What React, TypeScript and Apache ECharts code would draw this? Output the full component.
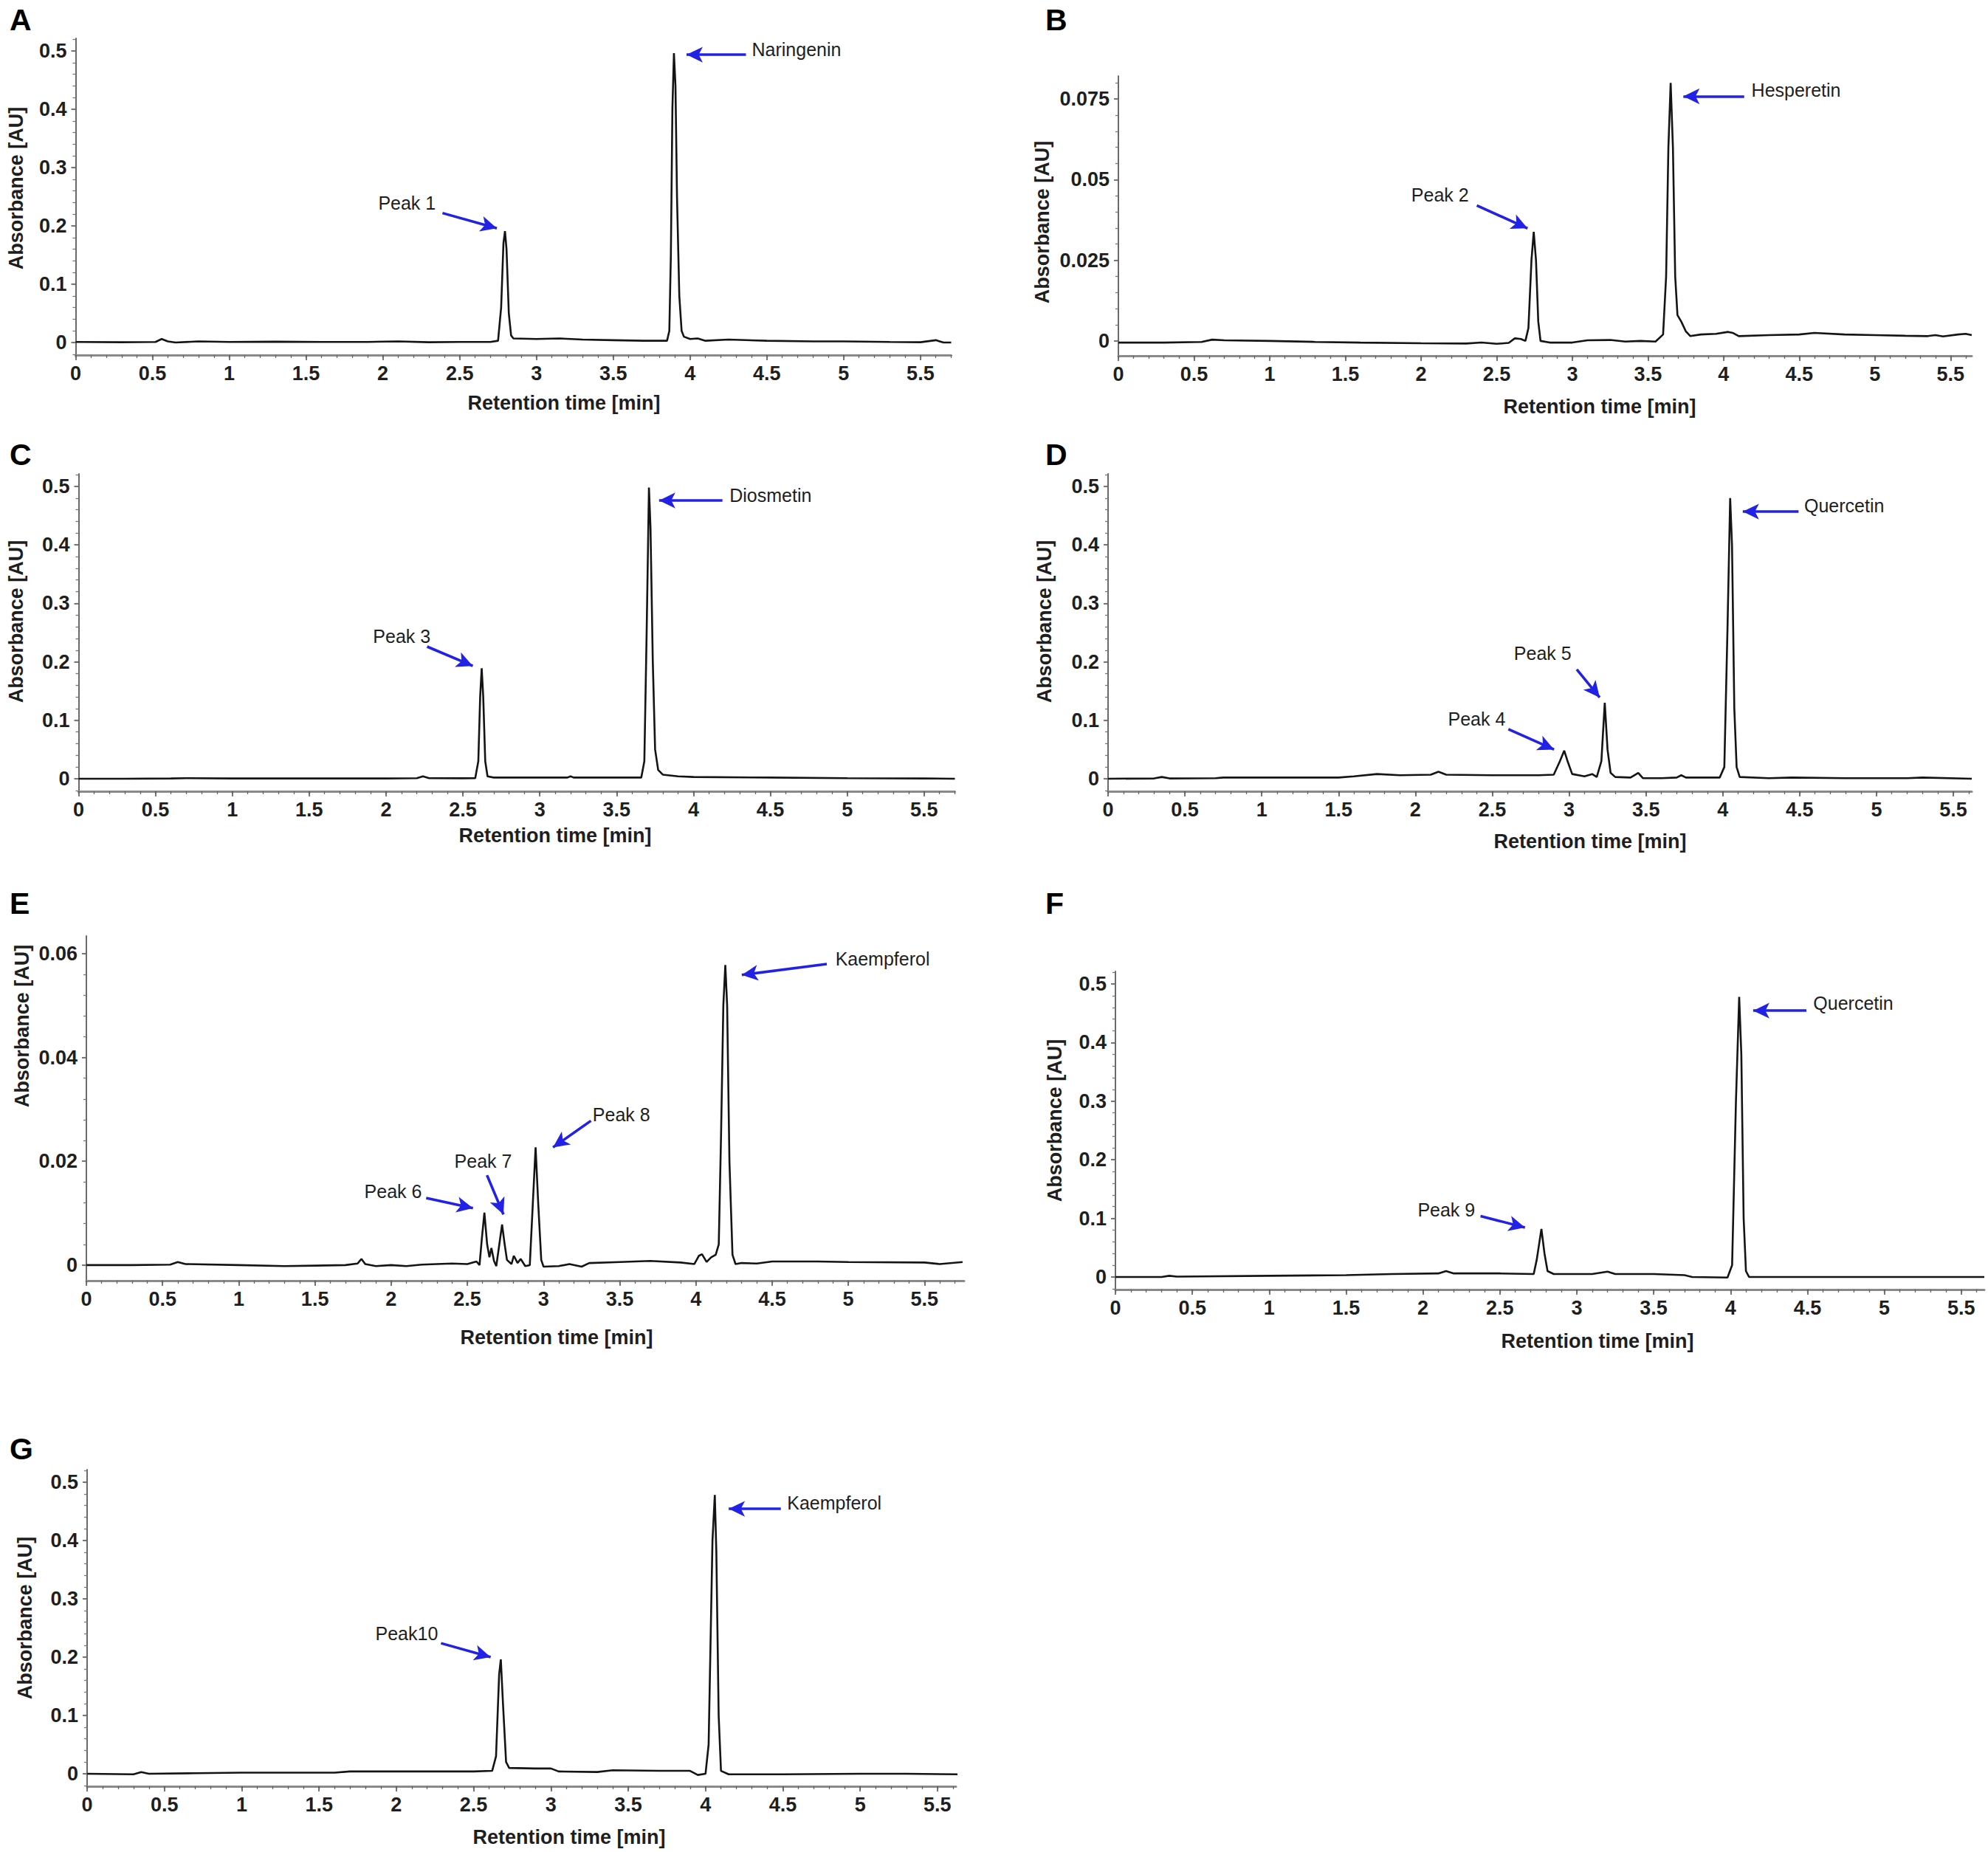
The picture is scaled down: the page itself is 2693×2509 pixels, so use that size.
import React, { useEffect, useRef } from 'react';
import * as echarts from 'echarts';

const W = 2693;
const H = 2509;
const FONT = '"Liberation Sans", Arial, Helvetica, sans-serif';
const BLUE = '#2222e6';

// ---- tick labels ----
const xTickLabels = [0, 0.5, 1, 1.5, 2, 2.5, 3, 3.5, 4, 4.5, 5, 5.5];
const yTicksMain = [0, 0.1, 0.2, 0.3, 0.4, 0.5];
const yTicksB = [0, 0.025, 0.05, 0.075];
const yTicksE = [0, 0.02, 0.04, 0.06];

// ---- chromatogram traces [time (min), absorbance (AU)] ----
const traceA = [
  [0, 0.001], [0.3, 0.0005], [0.52, 0.001], [0.56, 0.006], [0.6, 0.002], [0.65, 0.0], [0.8, 0.002],
  [1.0, 0.001], [1.3, 0.0015], [1.6, 0.001], [1.9, 0.001], [2.1, 0.002], [2.3, 0.0005], [2.5, 0.001],
  [2.7, 0.001], [2.75, 0.003], [2.77, 0.06], [2.785, 0.17], [2.795, 0.191], [2.805, 0.16], [2.82, 0.05],
  [2.835, 0.012], [2.85, 0.007], [3.0, 0.006], [3.15, 0.007], [3.3, 0.005], [3.5, 0.004], [3.7, 0.003],
  [3.85, 0.003], [3.865, 0.02], [3.875, 0.15], [3.885, 0.4], [3.895, 0.496], [3.905, 0.44], [3.915, 0.25],
  [3.93, 0.08], [3.945, 0.02], [3.96, 0.01], [4.0, 0.006], [4.05, 0.007], [4.1, 0.003], [4.25, 0.005],
  [4.5, 0.003], [4.8, 0.002], [5.0, 0.002], [5.3, 0.001], [5.5, 0.0005], [5.6, 0.004], [5.65, 0.0], [5.7, 0.0],
];
const traceB = [
  [0, -0.0005], [0.3, -0.0005], [0.55, -0.0003], [0.62, 0.0004], [0.7, 0.0002], [1.0, 0.0], [1.3, -0.0003],
  [1.6, -0.0005], [2.0, -0.0007], [2.3, -0.0008], [2.4, -0.0005], [2.5, -0.0009], [2.58, -0.0006],
  [2.62, 0.0008], [2.66, 0.0006], [2.69, 0.0], [2.71, 0.004], [2.73, 0.025], [2.745, 0.0338], [2.76, 0.025],
  [2.775, 0.006], [2.79, 0.0], [2.85, -0.0005], [3.0, -0.0005], [3.1, 0.0002], [3.25, 0.0003], [3.35, -0.0002],
  [3.45, 0.0], [3.55, -0.0002], [3.6, 0.002], [3.62, 0.02], [3.635, 0.06], [3.65, 0.08], [3.665, 0.06],
  [3.68, 0.02], [3.695, 0.008], [3.72, 0.006], [3.75, 0.003], [3.78, 0.0015], [3.85, 0.002], [3.95, 0.0022],
  [4.03, 0.0028], [4.06, 0.0025], [4.1, 0.0015], [4.3, 0.0018], [4.5, 0.002], [4.6, 0.0025], [4.8, 0.002],
  [5.0, 0.0018], [5.2, 0.0016], [5.35, 0.0015], [5.4, 0.0018], [5.45, 0.0014], [5.55, 0.002], [5.6, 0.0022],
  [5.64, 0.0018],
];
const traceC = [
  [0, 0.0], [0.3, 0.0], [0.6, 0.0005], [0.7, 0.001], [1.0, 0.0005], [1.5, 0.0005], [2.0, 0.0005], [2.2, 0.001],
  [2.24, 0.004], [2.28, 0.001], [2.5, 0.0008], [2.58, 0.001], [2.6, 0.03], [2.612, 0.14], [2.622, 0.189],
  [2.632, 0.14], [2.645, 0.03], [2.66, 0.004], [2.7, 0.002], [3.0, 0.002], [3.18, 0.002], [3.2, 0.004],
  [3.22, 0.002], [3.5, 0.002], [3.66, 0.002], [3.68, 0.03], [3.695, 0.25], [3.71, 0.498], [3.72, 0.43],
  [3.735, 0.2], [3.75, 0.05], [3.77, 0.015], [3.8, 0.007], [3.9, 0.004], [4.0, 0.003], [4.5, 0.002],
  [5.0, 0.001], [5.5, 0.0005], [5.7, 0.0],
];
const traceD = [
  [0, 0.0], [0.3, 0.0005], [0.35, 0.003], [0.4, 0.0005], [0.7, 0.001], [0.75, 0.002], [1.0, 0.002],
  [1.5, 0.002], [1.6, 0.004], [1.75, 0.008], [1.9, 0.006], [2.1, 0.007], [2.15, 0.012], [2.2, 0.007],
  [2.5, 0.006], [2.8, 0.006], [2.9, 0.007], [2.94, 0.03], [2.968, 0.048], [2.99, 0.03], [3.02, 0.008],
  [3.1, 0.004], [3.15, 0.008], [3.18, 0.003], [3.21, 0.03], [3.232, 0.13], [3.25, 0.05], [3.27, 0.01],
  [3.3, 0.003], [3.4, 0.002], [3.45, 0.01], [3.48, 0.001], [3.6, 0.001], [3.7, 0.002], [3.73, 0.006],
  [3.76, 0.002], [3.98, 0.002], [4.01, 0.02], [4.03, 0.25], [4.048, 0.48], [4.06, 0.4], [4.075, 0.12],
  [4.09, 0.02], [4.11, 0.003], [4.3, 0.001], [4.45, 0.002], [4.8, 0.001], [5.2, 0.001], [5.3, 0.002], [5.62, 0.0],
];
const traceE = [
  [0, 0.0], [0.3, 0.0], [0.55, 0.0001], [0.6, 0.0006], [0.65, 0.0002], [1.0, 0.0], [1.3, -0.0002],
  [1.5, -0.0001], [1.7, 0.0], [1.78, 0.0003], [1.805, 0.0012], [1.83, 0.0002], [1.9, -0.0002], [2.0, 0.0],
  [2.1, -0.0002], [2.2, 0.0001], [2.4, 0.0003], [2.5, 0.0002], [2.56, 0.0007], [2.58, 0.0], [2.595, 0.005],
  [2.612, 0.0101], [2.63, 0.004], [2.645, 0.0015], [2.658, 0.0033], [2.675, 0.0008], [2.69, -0.0002],
  [2.71, 0.004], [2.728, 0.0078], [2.745, 0.004], [2.76, 0.001], [2.79, 0.0002], [2.805, 0.0018],
  [2.83, 0.0004], [2.85, 0.0012], [2.88, -0.0002], [2.91, 0.0], [2.93, 0.012], [2.948, 0.0227],
  [2.965, 0.012], [2.985, 0.001], [3.0, -0.0003], [3.1, -0.0002], [3.17, 0.0002], [3.25, -0.0003],
  [3.3, 0.0004], [3.5, 0.0006], [3.7, 0.0008], [3.9, 0.0005], [3.99, 0.0002], [4.02, 0.0018], [4.04, 0.0021],
  [4.07, 0.0006], [4.1, 0.0015], [4.13, 0.002], [4.15, 0.004], [4.165, 0.025], [4.18, 0.05], [4.193, 0.0578],
  [4.205, 0.05], [4.22, 0.02], [4.24, 0.002], [4.26, 0.0002], [4.3, 0.0004], [4.4, 0.0003], [4.5, 0.0007],
  [4.8, 0.0007], [5.0, 0.0006], [5.5, 0.0005], [5.6, 0.0002], [5.75, 0.0006],
];
const traceF = [
  [0, 0.0], [0.3, 0.0], [0.35, 0.002], [0.4, 0.0005], [1.0, 0.002], [1.5, 0.003], [1.8, 0.005], [2.1, 0.006],
  [2.15, 0.01], [2.2, 0.006], [2.5, 0.006], [2.72, 0.005], [2.74, 0.03], [2.77, 0.082], [2.79, 0.04],
  [2.81, 0.01], [2.85, 0.005], [3.1, 0.005], [3.2, 0.009], [3.25, 0.005], [3.5, 0.005], [3.7, 0.003],
  [3.75, 0.0], [3.98, -0.001], [4.01, 0.02], [4.035, 0.3], [4.056, 0.478], [4.07, 0.38], [4.085, 0.1],
  [4.1, 0.01], [4.12, 0.0], [4.5, 0.0], [5.0, 0.0], [5.65, 0.0],
];
const traceG = [
  [0, 0.0], [0.3, -0.001], [0.35, 0.003], [0.4, 0.0], [0.7, 0.001], [1.0, 0.002], [1.5, 0.002], [1.6, 0.002],
  [1.7, 0.004], [2.0, 0.004], [2.5, 0.004], [2.62, 0.005], [2.645, 0.03], [2.665, 0.17], [2.676, 0.196],
  [2.69, 0.12], [2.71, 0.02], [2.73, 0.01], [2.9, 0.009], [3.0, 0.009], [3.05, 0.004], [3.3, 0.003],
  [3.4, 0.006], [3.7, 0.005], [3.9, 0.005], [3.95, -0.002], [4.0, 0.0], [4.02, 0.05], [4.045, 0.4],
  [4.06, 0.478], [4.07, 0.38], [4.085, 0.1], [4.1, 0.005], [4.15, -0.001], [4.5, -0.001], [5.0, 0.0],
  [5.3, 0.0], [5.64, -0.001],
];

// ---- annotations (label centre and arrow, in data coordinates) ----
type Ann = { text: string; at: number[]; from: number[]; to: number[] };
const annA: Ann[] = [
  { text: 'Peak 1', at: [2.157, 0.239], from: [2.388, 0.222], to: [2.742, 0.196] },
  { text: 'Naringenin', at: [4.693, 0.502], from: [4.364, 0.4935], to: [3.977, 0.4935] },
];
const annB: Ann[] = [
  { text: 'Peak 2', at: [2.126, 0.0452], from: [2.369, 0.042], to: [2.704, 0.0349] },
  { text: 'Hesperetin', at: [4.479, 0.0777], from: [4.136, 0.0758], to: [3.734, 0.0758] },
];
const annC: Ann[] = [
  { text: 'Peak 3', at: [2.102, 0.2435], from: [2.267, 0.226], to: [2.564, 0.193] },
  { text: 'Diosmetin', at: [4.501, 0.485], from: [4.188, 0.476], to: [3.776, 0.476] },
];
const annD: Ann[] = [
  { text: 'Peak 4', at: [2.399, 0.102], from: [2.605, 0.0848], to: [2.902, 0.05] },
  { text: 'Peak 5', at: [2.828, 0.215], from: [3.05, 0.187], to: [3.199, 0.139] },
  { text: 'Quercetin', at: [4.79, 0.467], from: [4.493, 0.457], to: [4.13, 0.457] },
];
const annE: Ann[] = [
  { text: 'Peak 6', at: [2.013, 0.01415], from: [2.23, 0.01293], to: [2.537, 0.01098] },
  { text: 'Peak 7', at: [2.604, 0.02], from: [2.629, 0.01732], to: [2.737, 0.00976] },
  { text: 'Peak 8', at: [3.511, 0.029], from: [3.311, 0.0278], to: [3.062, 0.02268] },
  { text: 'Kaempferol', at: [5.225, 0.059], from: [4.859, 0.058], to: [4.301, 0.0559] },
];
const annF: Ann[] = [
  { text: 'Peak 9', at: [2.152, 0.1147], from: [2.374, 0.1039], to: [2.663, 0.0844] },
  { text: 'Quercetin', at: [4.798, 0.4675], from: [4.493, 0.4545], to: [4.147, 0.4545] },
];
const annG: Ann[] = [
  { text: 'Peak10', at: [2.067, 0.241], from: [2.289, 0.2239], to: [2.61, 0.2] },
  { text: 'Kaempferol', at: [4.833, 0.465], from: [4.487, 0.4543], to: [4.15, 0.4543] },
];

type Panel = {
  letter: string;
  trace: number[][];
  ann: Ann[];
  yTicks: number[];
  yMinorStep: number;
  box: { left: number; top: number; width: number; height: number; xmax: number; ymin: number; ymax: number };
  letterPos: number[];
  yTitlePos: number[];
  xTitlePos: number[];
};

const panels: Panel[] = [
  { letter: 'A', trace: traceA, ann: annA, yTicks: yTicksMain, yMinorStep: 0.02,
    box: { left: 102.5, top: 52, width: 1186, height: 429, xmax: 5.7, ymin: -0.0215, ymax: 0.5215 },
    letterPos: [13, 27], yTitlePos: [22, 255], xTitlePos: [764, 546] },
  { letter: 'B', trace: traceB, ann: annB, yTicks: yTicksB, yMinorStep: 0.005,
    box: { left: 1515, top: 103, width: 1156, height: 379, xmax: 5.64, ymin: -0.0046, ymax: 0.0821 },
    letterPos: [1416, 27], yTitlePos: [1412, 301], xTitlePos: [2167, 551] },
  { letter: 'C', trace: traceC, ann: annC, yTicks: yTicksMain, yMinorStep: 0.02,
    box: { left: 106.5, top: 642, width: 1187, height: 430, xmax: 5.7, ymin: -0.0215, ymax: 0.5215 },
    letterPos: [13, 616], yTitlePos: [22, 842], xTitlePos: [752, 1132] },
  { letter: 'D', trace: traceD, ann: annD, yTicks: yTicksMain, yMinorStep: 0.02,
    box: { left: 1501, top: 642, width: 1170, height: 430, xmax: 5.62, ymin: -0.0215, ymax: 0.5215 },
    letterPos: [1416, 616], yTitlePos: [1415, 842], xTitlePos: [2154, 1140] },
  { letter: 'E', trace: traceE, ann: annE, yTicks: yTicksE, yMinorStep: 0.004,
    box: { left: 117, top: 1268, width: 1189, height: 467, xmax: 5.76, ymin: -0.003, ymax: 0.0634 },
    letterPos: [13, 1224], yTitlePos: [30, 1390], xTitlePos: [754, 1812] },
  { letter: 'F', trace: traceF, ann: annF, yTicks: yTicksMain, yMinorStep: 0.02,
    box: { left: 1511, top: 1316, width: 1177, height: 431, xmax: 5.65, ymin: -0.0215, ymax: 0.5215 },
    letterPos: [1416, 1224], yTitlePos: [1429, 1518], xTitlePos: [2164, 1817] },
  { letter: 'G', trace: traceG, ann: annG, yTicks: yTicksMain, yMinorStep: 0.02,
    box: { left: 118, top: 1991, width: 1177, height: 429, xmax: 5.62, ymin: -0.0215, ymax: 0.5215 },
    letterPos: [13, 1963], yTitlePos: [34, 2192], xTitlePos: [771, 2489] },
];

function minorTicks(min: number, max: number, step: number): number[] {
  const out: number[] = [];
  const k0 = Math.ceil(min / step - 1e-9);
  for (let k = k0; k * step <= max + 1e-9; k++) out.push(Number((k * step).toFixed(5)));
  return out;
}

function buildOption() {
  const grid: any[] = [];
  const xAxis: any[] = [];
  const yAxis: any[] = [];
  const series: any[] = [];
  const graphic: any[] = [];

  panels.forEach((p, i) => {
    const b = p.box;
    grid.push({ left: b.left, top: b.top, width: b.width, height: b.height, containLabel: false });
    xAxis.push({
      type: 'value', gridIndex: i, min: 0, max: b.xmax, position: 'bottom',
      axisLine: { show: true, onZero: false, lineStyle: { color: '#8a8a8a', width: 3 } },
      axisTick: { show: true, customValues: xTickLabels, length: 7, lineStyle: { color: '#555', width: 1.6 } },
      axisLabel: { show: true, customValues: xTickLabels, margin: 11, fontSize: 27, fontWeight: 'bold', color: '#1e1e1e', fontFamily: FONT },
      splitLine: { show: false },
    });
    xAxis.push({
      type: 'value', gridIndex: i, min: 0, max: b.xmax, position: 'bottom',
      axisLine: { show: false, onZero: false },
      axisTick: { show: true, customValues: minorTicks(0, b.xmax, 0.1), length: 4, lineStyle: { color: '#666', width: 1.3 } },
      axisLabel: { show: false },
      splitLine: { show: false },
    });
    yAxis.push({
      type: 'value', gridIndex: i, min: b.ymin, max: b.ymax, position: 'left',
      axisLine: { show: true, onZero: false, lineStyle: { color: '#6a6a6a', width: 2 } },
      axisTick: { show: true, customValues: p.yTicks, length: 6, lineStyle: { color: '#555', width: 1.6 } },
      axisLabel: { show: true, customValues: p.yTicks, margin: 12, fontSize: 27, fontWeight: 'bold', color: '#1e1e1e', fontFamily: FONT },
      splitLine: { show: false },
    });
    yAxis.push({
      type: 'value', gridIndex: i, min: b.ymin, max: b.ymax, position: 'left',
      axisLine: { show: false, onZero: false },
      axisTick: { show: true, customValues: minorTicks(b.ymin, b.ymax, p.yMinorStep), length: 4, lineStyle: { color: '#777', width: 1.3 } },
      axisLabel: { show: false },
      splitLine: { show: false },
    });
    series.push({
      type: 'line', xAxisIndex: 2 * i, yAxisIndex: 2 * i, data: p.trace,
      showSymbol: false, symbol: 'none', smooth: false,
      lineStyle: { color: '#141414', width: 2.6 },
      markLine: {
        silent: true, animation: false,
        symbol: ['none', 'arrow'], symbolSize: [16, 22],
        lineStyle: { color: BLUE, width: 3.6, type: 'solid' },
        label: { show: false },
        data: p.ann.map((a) => [{ coord: a.from }, { coord: a.to }]),
      },
      markPoint: {
        silent: true, animation: false,
        symbol: 'circle', symbolSize: 1, itemStyle: { color: 'rgba(0,0,0,0)' },
        label: { show: true, position: 'inside', formatter: '{b}', color: '#1e1e1e', fontSize: 25, fontFamily: FONT },
        data: p.ann.map((a) => ({ name: a.text, coord: a.at })),
      },
    });
    graphic.push({
      type: 'text', x: p.letterPos[0], y: p.letterPos[1], silent: true,
      style: { text: p.letter, fill: '#000', font: `bold 41px ${FONT}`, textAlign: 'left', textVerticalAlign: 'middle' },
    });
    graphic.push({
      type: 'text', x: p.yTitlePos[0], y: p.yTitlePos[1], rotation: Math.PI / 2, silent: true,
      style: { text: 'Absorbance [AU]', fill: '#1e1e1e', font: `bold 27px ${FONT}`, textAlign: 'center', textVerticalAlign: 'middle' },
    });
    graphic.push({
      type: 'text', x: p.xTitlePos[0], y: p.xTitlePos[1], silent: true,
      style: { text: 'Retention time [min]', fill: '#1e1e1e', font: `bold 27px ${FONT}`, textAlign: 'center', textVerticalAlign: 'middle' },
    });
  });

  return {
    animation: false,
    backgroundColor: '#ffffff',
    grid, xAxis, yAxis, series, graphic,
  };
}

export default function App() {
  const ref = useRef<HTMLDivElement>(null);
  useEffect(() => {
    document.body.style.margin = '0';
    if (!ref.current) return;
    const chart = echarts.init(ref.current, undefined, { renderer: 'svg', width: W, height: H });
    chart.setOption(buildOption() as any);
    return () => chart.dispose();
  }, []);
  return <div ref={ref} style={{ position: 'absolute', left: 0, top: 0, width: W, height: H, background: '#fff' }} />;
}
